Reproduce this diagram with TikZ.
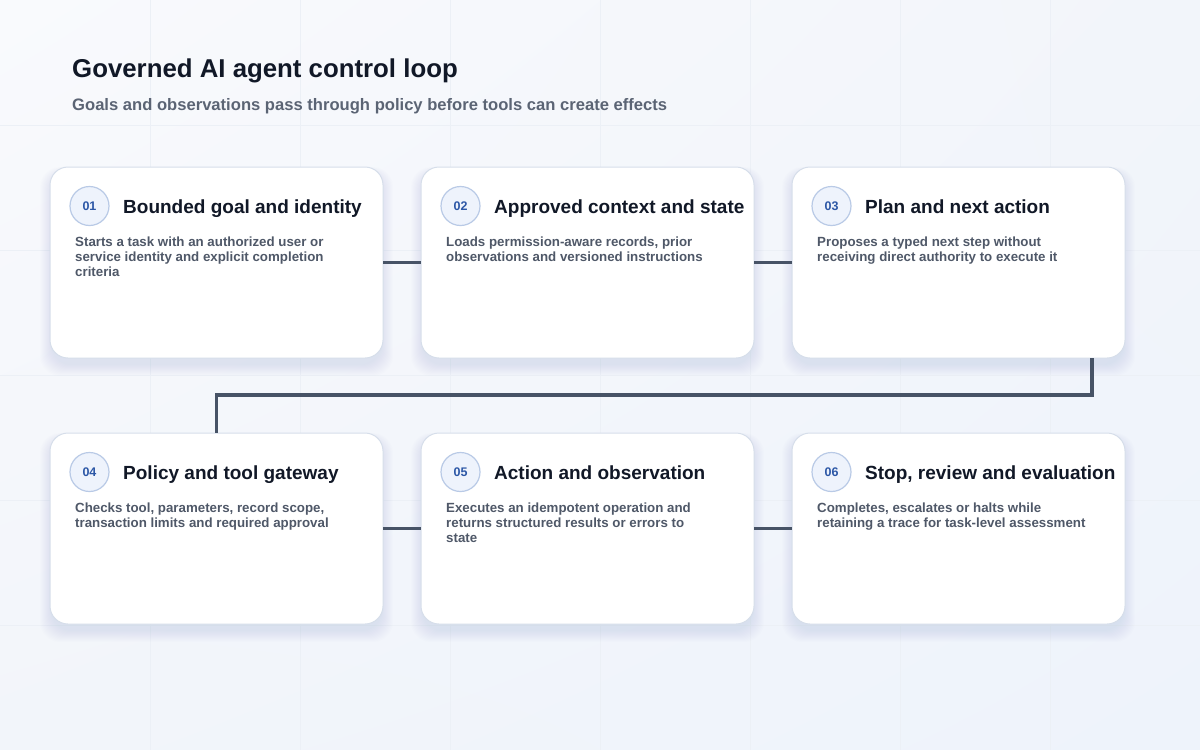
\documentclass[tikz,border=0pt]{standalone}
\usepackage{fontspec}
\setmainfont{Liberation Sans}
\usetikzlibrary{calc,shadings}
\definecolor{bgA}{HTML}{F9FAFD}
\definecolor{bgB}{HTML}{F2F5FA}
\definecolor{bgC}{HTML}{EEF3FB}
\definecolor{gridc}{HTML}{ECF0F6}
\definecolor{cardline}{HTML}{D6DEEA}
\definecolor{shadowc}{HTML}{8290A8}
\definecolor{titlec}{HTML}{111827}
\definecolor{subc}{HTML}{5B6474}
\definecolor{descc}{HTML}{4F5868}
\definecolor{numc}{HTML}{2C57A6}
\definecolor{circfill}{HTML}{EEF3FC}
\definecolor{circline}{HTML}{B9CAE6}
\definecolor{linkc}{HTML}{475366}
\tikzset{
  card/.style={draw=cardline, line width=1pt, fill=white, rounded corners=18pt,
    minimum width=333pt, minimum height=191pt, inner sep=0pt, outer sep=0pt, anchor=north west},
  badge/.style={circle, draw=circline, line width=1.2pt, fill=circfill, minimum size=39pt,
    inner sep=0pt, text=numc, font=\bfseries\fontsize{12.5}{14}\selectfont},
  cardtitle/.style={anchor=base west, inner sep=0pt, text=titlec, font=\bfseries\fontsize{19}{22}\selectfont},
  carddesc/.style={anchor=base west, inner sep=0pt, text=descc, font=\bfseries\fontsize{13.3}{15}\selectfont},
  link/.style={draw=linkc, line width=3.5pt},
}
\newcommand\cardshadow[2]{%
  \foreach \i in {1,...,12}{%
    \fill[shadowc, opacity=0.012, rounded corners=20pt] (#1+2-\i, #2+6-\i*0.5) rectangle (#1+331+\i, #2+197+\i);
  }%
}
\newcommand\stepcard[6]{%
  \node[card] (#1) at (#2,#3) {};
  \node[badge] (#1n) at ($(#1.north west)+(39.5,39)$) {#4};
  \node[cardtitle] (#1t) at ($(#1.north west)+(73,46)$) {#5};
  \node[carddesc] (#1d) at ($(#1.north west)+(25,79.5)$) {\begin{tabular}[t]{@{}l@{}}#6\end{tabular}};
}
\begin{document}
\begin{tikzpicture}[x=1pt,y=-1pt]
\useasboundingbox (0,0) rectangle (1200,750);
\shade[upper left=bgA, upper right=bgB, lower left=bgB, lower right=bgC] (0,0) rectangle (1200,750);
\foreach \x in {150,300,...,1050} \draw[gridc, line width=0.8pt] (\x,0) -- (\x,750);
\foreach \y in {125,250,...,625} \draw[gridc, line width=0.8pt] (0,\y) -- (1200,\y);

\node[anchor=base west, inner sep=0pt, text=titlec, font=\bfseries\fontsize{25.8}{30}\selectfont] (title) at (72,77) {Governed AI agent control loop};
\node[anchor=base west, inner sep=0pt, text=subc, font=\bfseries\fontsize{16.6}{20}\selectfont] (subtitle) at (72,110) {Goals and observations pass through policy before tools can create effects};

\cardshadow{50}{167}
\cardshadow{421}{167}
\cardshadow{792}{167}
\cardshadow{50}{433}
\cardshadow{421}{433}
\cardshadow{792}{433}

\stepcard{c1}{50}{167}{01}{Bounded goal and identity}{Starts a task with an authorized user or\\service identity and explicit completion\\criteria}
\stepcard{c2}{421}{167}{02}{Approved context and state}{Loads permission-aware records, prior\\observations and versioned instructions}
\stepcard{c3}{792}{167}{03}{Plan and next action}{Proposes a typed next step without\\receiving direct authority to execute it}
\stepcard{c4}{50}{433}{04}{Policy and tool gateway}{Checks tool, parameters, record scope,\\transaction limits and required approval}
\stepcard{c5}{421}{433}{05}{Action and observation}{Executes an idempotent operation and\\returns structured results or errors to\\state}
\stepcard{c6}{792}{433}{06}{Stop, review and evaluation}{Completes, escalates or halts while\\retaining a trace for task-level assessment}

\draw[link] (c1.east) -- (c2.west);
\draw[link] (c2.east) -- (c3.west);
\coordinate (bend) at (1092,395);
\draw[link] (c3.south -| bend) -- (bend) -| (c4.north);
\draw[link] (c4.east) -- (c5.west);
\draw[link] (c5.east) -- (c6.west);
\end{tikzpicture}
\end{document}
